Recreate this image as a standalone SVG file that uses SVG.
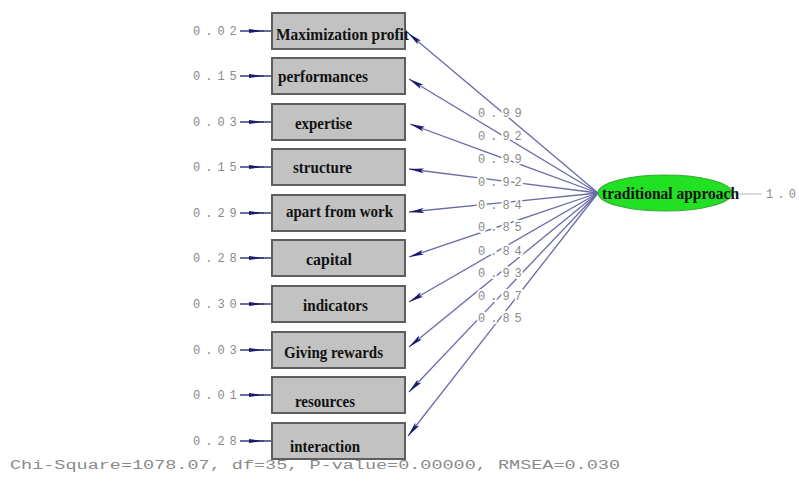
<svg xmlns="http://www.w3.org/2000/svg" width="799" height="483" viewBox="0 0 799 483">
<defs>
<style>
.box{fill:#c2c2c2;stroke:#5e5e5e;stroke-width:2}
.lbl{font-family:"Liberation Serif",serif;font-size:17px;fill:#111;font-weight:bold}
.num{font-family:"Liberation Mono",monospace;font-size:12px;fill:#8a8a8a;letter-spacing:5px}
.nb{font-family:"Liberation Mono",monospace;font-size:12px;fill:#8a8a8a;letter-spacing:5px;stroke:#fff;stroke-width:4;paint-order:stroke}
.ld{stroke:#6a6aa8;stroke-width:1.3;fill:none}
.er{stroke:#3a3a7a;stroke-width:1.5;fill:none}
</style>
<marker id="ah" markerWidth="16" markerHeight="6" refX="15" refY="3" orient="auto" markerUnits="userSpaceOnUse">
<path d="M0,0.5 L15,3 L0,5.5 L3,3 Z" fill="#1a1a6e"/>
</marker>
<marker id="eh" markerWidth="16" markerHeight="6" refX="15" refY="3" orient="auto" markerUnits="userSpaceOnUse">
<path d="M0,1 L15,3 L0,5 Z" fill="#1a1a6e"/>
</marker>
</defs>
<rect width="799" height="483" fill="#fff"/>
<g id="connectors">
<line class="ld" x1="598" y1="193" x2="408" y2="33" marker-end="url(#ah)"/>
<line class="ld" x1="598" y1="193" x2="409" y2="79" marker-end="url(#ah)"/>
<line class="ld" x1="598" y1="193" x2="410" y2="124" marker-end="url(#ah)"/>
<line class="ld" x1="598" y1="193" x2="409" y2="169" marker-end="url(#ah)"/>
<line class="ld" x1="598" y1="193" x2="409" y2="212" marker-end="url(#ah)"/>
<line class="ld" x1="598" y1="193" x2="409" y2="257" marker-end="url(#ah)"/>
<line class="ld" x1="598" y1="193" x2="409" y2="302" marker-end="url(#ah)"/>
<line class="ld" x1="598" y1="193" x2="409" y2="347" marker-end="url(#ah)"/>
<line class="ld" x1="598" y1="193" x2="409" y2="392" marker-end="url(#ah)"/>
<line class="ld" x1="598" y1="193" x2="408" y2="436" marker-end="url(#ah)"/>
<line class="er" x1="240" y1="31" x2="264" y2="31" marker-end="url(#eh)"/><line class="er" x1="262" y1="31" x2="272" y2="31"/>
<line class="er" x1="240" y1="76" x2="264" y2="76" marker-end="url(#eh)"/><line class="er" x1="262" y1="76" x2="272" y2="76"/>
<line class="er" x1="240" y1="122" x2="264" y2="122" marker-end="url(#eh)"/><line class="er" x1="262" y1="122" x2="272" y2="122"/>
<line class="er" x1="240" y1="167" x2="264" y2="167" marker-end="url(#eh)"/><line class="er" x1="262" y1="167" x2="272" y2="167"/>
<line class="er" x1="240" y1="213" x2="264" y2="213" marker-end="url(#eh)"/><line class="er" x1="262" y1="213" x2="272" y2="213"/>
<line class="er" x1="240" y1="258" x2="264" y2="258" marker-end="url(#eh)"/><line class="er" x1="262" y1="258" x2="272" y2="258"/>
<line class="er" x1="240" y1="304" x2="264" y2="304" marker-end="url(#eh)"/><line class="er" x1="262" y1="304" x2="272" y2="304"/>
<line class="er" x1="240" y1="350" x2="264" y2="350" marker-end="url(#eh)"/><line class="er" x1="262" y1="350" x2="272" y2="350"/>
<line class="er" x1="240" y1="395" x2="264" y2="395" marker-end="url(#eh)"/><line class="er" x1="262" y1="395" x2="272" y2="395"/>
<line class="er" x1="240" y1="441" x2="264" y2="441" marker-end="url(#eh)"/><line class="er" x1="262" y1="441" x2="272" y2="441"/>
<line x1="735" y1="194" x2="762" y2="194" stroke="#c8c8c8" stroke-width="1.3"/>
<text class="nb" x="478" y="117">0.99</text>
<text class="nb" x="478" y="140">0.92</text>
<text class="nb" x="478" y="163">0.99</text>
<text class="nb" x="478" y="186">0.92</text>
<text class="nb" x="478" y="209">0.84</text>
<text class="nb" x="478" y="231">0.85</text>
<text class="nb" x="478" y="255">0.84</text>
<text class="nb" x="478" y="277">0.93</text>
<text class="nb" x="478" y="300">0.97</text>
<text class="nb" x="478" y="322">0.85</text>
</g>
<g id="n1"><rect class="box" x="272" y="13" width="133" height="36"/><text class="lbl" x="276" y="40" textLength="133" lengthAdjust="spacingAndGlyphs">Maximization profit</text><text class="num" x="193" y="35">0.02</text></g>
<g id="n2"><rect class="box" x="272" y="58" width="133" height="36"/><text class="lbl" x="278" y="82" textLength="90" lengthAdjust="spacingAndGlyphs">performances</text><text class="num" x="193" y="80">0.15</text></g>
<g id="n3"><rect class="box" x="272" y="104" width="133" height="36"/><text class="lbl" x="295" y="129" textLength="57" lengthAdjust="spacingAndGlyphs">expertise</text><text class="num" x="193" y="126">0.03</text></g>
<g id="n4"><rect class="box" x="272" y="149" width="133" height="36"/><text class="lbl" x="293" y="173" textLength="59" lengthAdjust="spacingAndGlyphs">structure</text><text class="num" x="193" y="171">0.15</text></g>
<g id="n5"><rect class="box" x="272" y="195" width="133" height="36"/><text class="lbl" x="286" y="217" textLength="107" lengthAdjust="spacingAndGlyphs">apart from work</text><text class="num" x="193" y="217">0.29</text></g>
<g id="n6"><rect class="box" x="272" y="240" width="133" height="36"/><text class="lbl" x="306" y="265" textLength="46" lengthAdjust="spacingAndGlyphs">capital</text><text class="num" x="193" y="262">0.28</text></g>
<g id="n7"><rect class="box" x="272" y="286" width="133" height="36"/><text class="lbl" x="303" y="311" textLength="65" lengthAdjust="spacingAndGlyphs">indicators</text><text class="num" x="193" y="308">0.30</text></g>
<g id="n8"><rect class="box" x="272" y="332" width="133" height="36"/><text class="lbl" x="284" y="358" textLength="99" lengthAdjust="spacingAndGlyphs">Giving rewards</text><text class="num" x="193" y="354">0.03</text></g>
<g id="n9"><rect class="box" x="272" y="377" width="133" height="36"/><text class="lbl" x="295" y="407" textLength="60" lengthAdjust="spacingAndGlyphs">resources</text><text class="num" x="193" y="399">0.01</text></g>
<g id="n10"><rect class="box" x="272" y="423" width="133" height="36"/><text class="lbl" x="290" y="452" textLength="70" lengthAdjust="spacingAndGlyphs">interaction</text><text class="num" x="193" y="445">0.28</text></g>
<g id="latent"><ellipse cx="665" cy="193" rx="67" ry="18" fill="#22e022" stroke="#3aa83a" stroke-width="1.2"/><text class="lbl" x="602" y="199" textLength="137" lengthAdjust="spacingAndGlyphs">traditional approach</text><text class="num" x="766" y="198" textLength="30" lengthAdjust="spacing" style="letter-spacing:0">1.0</text></g>
<text class="num" x="10" y="469" textLength="610" lengthAdjust="spacingAndGlyphs" style="letter-spacing:0">Chi-Square=1078.07, df=35, P-value=0.00000, RMSEA=0.030</text>
</svg>
